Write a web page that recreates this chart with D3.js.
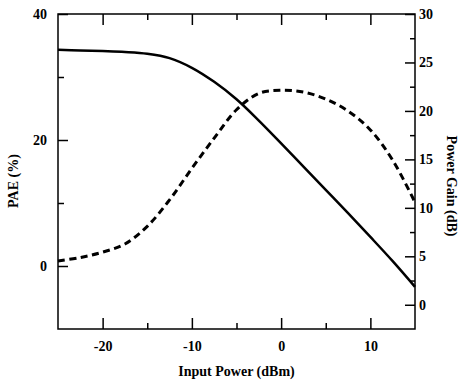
<!DOCTYPE html>
<html>
<head>
<meta charset="utf-8">
<script src="https://cdn.jsdelivr.net/npm/d3@7"></script>
<style>
  body { margin: 0; background: #fff; }
  text { font-family: "Liberation Serif", "Times New Roman", serif; font-weight: bold; }
</style>
</head>
<body>
<div id="chart"></div>
<script>
// input power sweep (dBm)
var inputPower = [-25, -22.5, -20, -17.5, -15, -12.5, -10, -7.5, -5, -2.5, 0, 2.5, 5, 7.5, 10, 12.5, 15];
// power gain (dB), solid line, right axis
var gainDb = [26.3, 26.24, 26.17, 26.08, 25.9, 25.45, 24.45, 23.0, 21.2, 19.0, 16.65, 14.25, 11.85, 9.45, 7.0, 4.5, 1.85];
// PAE (%), dashed line, left axis
var paePct = [0.8, 1.35, 2.2, 3.5, 6.3, 10.5, 15.5, 20.3, 24.8, 27.4, 27.9, 27.6, 26.5, 24.6, 21.6, 16.8, 10.1];

var xMajor = [-20, -10, 0, 10];
var xMinor = [-15, -5, 5];
var leftMajor = [0, 20, 40];
var leftMinor = [10, 30];
var rightMajor = [0, 5, 10, 15, 20, 25, 30];
var rightMinor = [2.5, 7.5, 12.5, 17.5, 22.5, 27.5];

var svgWidth = 461;
var svgHeight = 388;

var margin = {top: 14, right: 46, bottom: 59, left: 58};
var plotW = svgWidth - margin.left - margin.right;
var plotH = svgHeight - margin.top - margin.bottom;

var svg = d3.select("#chart")
            .append("svg")
            .attr("width", svgWidth)
            .attr("height", svgHeight);

var g = svg.append("g")
           .attr("transform", `translate(${margin.left}, ${margin.top})`);

var x = d3.scaleLinear().domain([-25, 15]).range([0, plotW]);
var yLeft = d3.scaleLinear().domain([-10, 40]).range([plotH, 0]);
var yRight = d3.scaleLinear().domain([-2.5, 30]).range([plotH, 0]);

// plain hyphen for negatives, like the original
var fmt = d => String(d);

function styleAxis(sel) {
    sel.select(".domain").remove();
    sel.selectAll("line").attr("stroke", "#000").attr("stroke-width", 1.5);
    sel.selectAll("text").attr("font-size", 14).attr("fill", "#000")
       .style("font-family", "'Liberation Serif', 'Times New Roman', serif")
       .style("font-weight", "bold");
}

// bottom axis
g.append("g").attr("transform", `translate(0, ${plotH})`)
 .call(d3.axisBottom(x).tickValues(xMajor).tickSize(-11).tickPadding(12).tickFormat(fmt))
 .call(styleAxis);
g.append("g").attr("transform", `translate(0, ${plotH})`)
 .call(d3.axisBottom(x).tickValues(xMinor).tickSize(-6).tickFormat(""))
 .call(styleAxis);
// top mirror
g.append("g")
 .call(d3.axisTop(x).tickValues(xMajor).tickSize(-11).tickFormat(""))
 .call(styleAxis);
g.append("g")
 .call(d3.axisTop(x).tickValues(xMinor).tickSize(-6).tickFormat(""))
 .call(styleAxis);

// left axis
g.append("g")
 .call(d3.axisLeft(yLeft).tickValues(leftMajor).tickSize(-10).tickPadding(11).tickFormat(fmt))
 .call(styleAxis);
g.append("g")
 .call(d3.axisLeft(yLeft).tickValues(leftMinor).tickSize(-6).tickFormat(""))
 .call(styleAxis);

// right axis
g.append("g").attr("transform", `translate(${plotW}, 0)`)
 .call(d3.axisRight(yRight).tickValues(rightMajor).tickSize(-10).tickPadding(4).tickFormat(fmt))
 .call(styleAxis);
g.append("g").attr("transform", `translate(${plotW}, 0)`)
 .call(d3.axisRight(yRight).tickValues(rightMinor).tickSize(-5).tickFormat(""))
 .call(styleAxis);

// frame
g.append("rect")
 .attr("width", plotW)
 .attr("height", plotH)
 .attr("fill", "none")
 .attr("stroke", "#000")
 .attr("stroke-width", 1.5);

// curves
var gainLine = d3.line()
                 .x((d, i) => x(inputPower[i]))
                 .y(d => yRight(d))
                 .curve(d3.curveCatmullRom);
var paeLine = d3.line()
                .x((d, i) => x(inputPower[i]))
                .y(d => yLeft(d))
                .curve(d3.curveCatmullRom);

g.append("path")
 .datum(paePct)
 .attr("d", paeLine)
 .attr("fill", "none")
 .attr("stroke", "#000")
 .attr("stroke-width", 3)
 .attr("stroke-dasharray", "7,4.5");

g.append("path")
 .datum(gainDb)
 .attr("d", gainLine)
 .attr("fill", "none")
 .attr("stroke", "#000")
 .attr("stroke-width", 2.5);

// axis titles
g.append("text")
 .attr("transform", `translate(${plotW / 2}, ${plotH + 47})`)
 .attr("text-anchor", "middle")
 .attr("font-size", 14)
 .text("Input Power (dBm)");

g.append("text")
 .attr("transform", `translate(${-40}, 167) rotate(-90)`)
 .attr("text-anchor", "middle")
 .attr("font-size", 14)
 .text("PAE (%)");

g.append("text")
 .attr("transform", `translate(${plotW + 32}, 172) rotate(90)`)
 .attr("text-anchor", "middle")
 .attr("font-size", 14)
 .text("Power Gain (dB)");
</script>
</body>
</html>
